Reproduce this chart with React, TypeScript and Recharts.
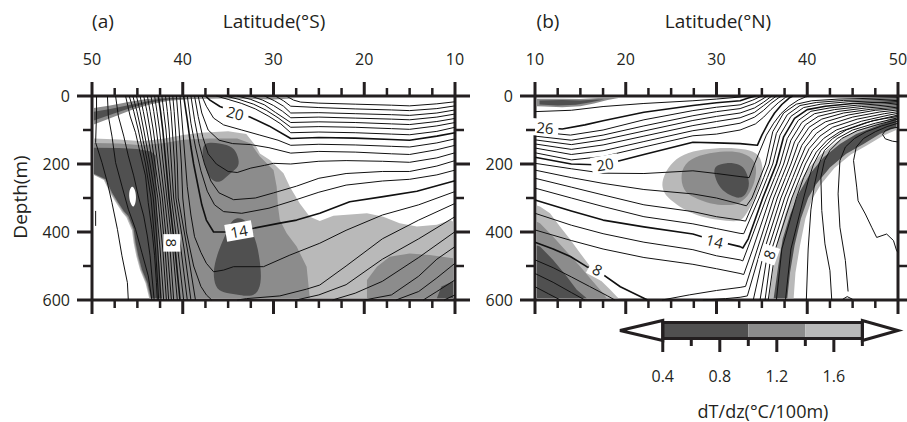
import React from 'react';
import { ScatterChart, Scatter, XAxis, YAxis } from 'recharts';

type P = [number, number];

// ---------------- shared axes ----------------
const latTicks = [10, 12.5, 15, 17.5, 20, 22.5, 25, 27.5, 30, 32.5, 35, 37.5, 40, 42.5, 45, 47.5, 50];
const latLabels = [10, 20, 30, 40, 50];
const depthTicks = [0, 100, 200, 300, 400, 500, 600];
const depthLabels = [0, 200, 400, 600];

// shading levels (dT/dz, degC/100m)
const cbarLevels = [0.4, 1.0, 1.4, 1.8];
const cbarTips = [0.1, 2.05];
const cbarTicks = [0.4, 0.6, 0.8, 1.0, 1.2, 1.4, 1.6, 1.8];
const cbarLabels = [0.4, 0.8, 1.2, 1.6];

const DARK = '#505050';
const MID = '#8c8c8c';
const LIGHT = '#b9b9b9';
const INK = '#231f20';
const FONT = "'Open Sans', 'Noto Sans', 'DejaVu Sans', sans-serif";

// ================= Panel (a) : latitude S =================
const aSurfMid: P[] = [[49.8,35],[48,28],[46,18],[44,9],[42.5,5],[40,4],[27,4],[28,7],[30,10],[33,8],[36,7],[39,9],[41.5,14],[43.5,24],[45.5,40],[47.5,60],[49.8,84]];
const aSurfDark: P[] = [[49.8,46],[48,38],[46,27],[44,16],[42.5,8],[41,5],[39,6],[41.5,10],[43.5,19],[45.5,33],[47.5,51],[49.8,72]];
const aLight: P[] = [[49.8,125],[47,128],[44.5,133],[42,125],[40,115],[38,108],[35,104],[33,112],[31.9,149],[31.5,169],[30.4,188],[28.9,227],[28.2,267],[27.1,316],[26.0,355],[24.9,368],[23.4,352],[19.7,345],[17.9,355],[16.1,374],[14.2,384],[12.0,379],[10.5,365],[10.2,370],[10.2,595],[43.7,595],[44.1,551],[44.7,512],[45.1,473],[45.4,434],[45.6,395],[46.2,357],[46.7,341],[47.3,316],[48.0,286],[48.7,247],[49.8,232]];
const aMid: P[] = [[49.8,138],[47,140],[44.5,145],[42,138],[40,129],[37,125],[34,125],[32.5,140],[31.5,178],[30.0,218],[29.65,267],[29.5,326],[29.3,365],[28.55,404],[27.45,443],[26.35,502],[26.0,595],[43.6,595],[44.0,551],[44.6,511],[45.0,471],[45.3,432],[45.5,393],[46.1,355],[46.6,340],[47.2,315],[47.9,285],[48.6,246],[49.8,231]];
const aMid2: P[] = [[19.7,595],[19.7,541],[18.6,502],[17.2,473],[15.0,463],[12.8,468],[10.2,477],[10.2,595]];
const aDark1: P[] = [[49.8,152],[47,153],[45,156],[43.5,163],[43.0,175],[42.9,300],[42.7,450],[42.3,595],[43.5,595],[43.9,549],[44.5,510],[44.9,470],[45.2,431],[45.4,392],[46.0,353],[46.5,338],[47.1,314],[47.8,284],[48.5,245],[49.8,229]];
const aDark2: P[] = [[37.9,169],[37.7,134],[35.9,139],[34.4,149],[33.9,178],[33.7,208],[34.8,227],[35.5,247],[36.3,257],[37.2,237],[37.5,208]];
const aDark3: P[] = [[34.05,355],[33.0,365],[32.4,394],[31.85,433],[31.5,482],[31.3,541],[31.7,580],[32.6,590],[33.7,585],[35.2,580],[36.3,570],[36.65,531],[36.5,492],[35.9,443],[35.2,404],[34.8,374]];
const aDark4: P[] = [[12,595],[11.5,560],[10.2,545],[10.2,595]];
const aHole: P[] = [[45.6,260],[45.2,278],[45.1,305],[45.4,332],[45.8,316],[46.0,285]];

const aL0: P[] = [[49.5,0],[49.5,50],[49.6,137],[48.9,196],[48.3,255],[47.8,314],[47.2,392],[46.7,470],[46.1,549],[46.0,600]];
const aL1: P[] = [[48.3,0],[48.2,59],[47.8,118],[47.4,196],[46.7,265],[46.0,333],[45.2,392],[44.5,461],[43.8,529],[43.4,600]];
const aL2: P[] = [[47.4,0],[47.1,59],[46.5,118],[46.0,176],[45.4,235],[44.9,294],[44.3,353],[43.9,412],[43.6,470],[43.4,529],[43.15,600]];
const aL3: P[] = [[46.3,0],[45.8,59],[45.2,108],[44.7,167],[44.1,235],[43.8,314],[43.4,392],[43.1,470],[42.9,549],[42.8,600]];
const aStub: P[] = [[49.6,338],[49.6,382]];
const aD0: P[] = [[45.9,0],[45.4,45],[44.9,100],[44.1,200],[43.5,300],[43.0,450],[42.65,600]];
const aD1: P[] = [[45.5,0],[45.05,45],[44.6,100],[43.85,200],[43.25,300],[42.75,450],[42.4,600]];
const aD2: P[] = [[45.1,0],[44.7,45],[44.3,100],[43.6,200],[43.0,300],[42.5,450],[42.1,600]];
const aD3: P[] = [[44.7,0],[44.35,45],[43.95,100],[43.3,200],[42.75,300],[42.2,450],[41.8,600]];
const aD4: P[] = [[44.3,0],[43.95,45],[43.6,100],[43.05,200],[42.5,300],[41.95,450],[41.55,600]];
const aD5: P[] = [[43.9,0],[43.6,45],[43.25,100],[42.75,200],[42.25,300],[41.7,450],[41.25,600]];
const aD6: P[] = [[43.5,0],[43.2,45],[42.9,100],[42.45,200],[42.0,300],[41.4,450],[41.0,600]];
const aD7: P[] = [[43.1,0],[42.85,45],[42.55,100],[42.15,200],[41.75,300],[41.1,450],[40.6,600]];
const aD8: P[] = [[42.7,0],[42.45,45],[42.2,100],[41.85,200],[41.5,300],[40.85,450],[40.3,600]];
const aD9: P[] = [[42.3,0],[42.1,45],[41.85,100],[41.55,200],[41.25,300],[40.55,450],[39.9,600]];
const aD10: P[] = [[41.9,0],[41.7,45],[41.5,100],[41.25,200],[41.0,300],[40.2,450],[39.5,600]];
const aD11: P[] = [[41.5,0],[41.3,45],[41.15,100],[40.9,200],[40.75,300],[39.85,450],[39.1,600]];
const aD12: P[] = [[41.1,0],[40.95,45],[40.8,100],[40.6,200],[40.5,300],[39.5,450],[38.6,600]];
const aT12: P[] = [[40.7,0],[40.4,100],[40.15,200],[40.0,300],[39.6,400],[38.8,500],[38.0,560],[37.4,585],[36.8,600]];
const aT12b: P[] = [[34.0,600],[33.0,596],[29.3,588],[26.35,568],[24.9,556],[22,500],[18,420],[14,365],[10,316]];
const aT13: P[] = [[40.3,0],[40.0,100],[39.7,200],[39.5,267],[39.1,350],[38.7,414],[38.0,460],[37.4,492],[36.6,517],[35.5,512],[34.4,502],[31.1,502],[28.2,468],[24.9,433],[22,395],[18,350],[14,320],[10,281]];
const aT14: P[] = [[39.9,0],[39.5,71],[39.1,150],[38.8,200],[38.3,267],[37.9,320],[37.4,365],[36.6,400],[35,400],[33.9,396],[32.2,389],[29.3,374],[27.45,365],[24.9,345],[21.6,311],[17.9,296],[14.2,280],[10,249]];
const aT15: P[] = [[39.5,0],[39.1,80],[38.6,150],[38.0,220],[37.3,280],[36.5,320],[35.5,340],[33.5,345],[30.5,330],[27.5,305],[25,283],[22,262],[18,250],[15,245],[12,232],[10,218]];
const aT16: P[] = [[39.1,0],[38.7,70],[38.2,140],[37.6,200],[36.9,250],[36.0,285],[34.4,305],[32,300],[30,285],[27.45,265],[25,242],[22,228],[18,222],[15,222],[12,206],[10,190]];
const aT17: P[] = [[38.7,0],[38.3,60],[37.8,120],[37.2,170],[36.3,200],[35.0,222],[34.0,225],[32.5,212],[31,204],[30,198],[28.1,200],[25,192],[22,190],[18,192],[15,195],[12,182],[10,167]];
const aT18: P[] = [[38.3,0],[37.9,50],[37.2,100],[36.0,130],[34.5,140],[32.5,143],[30.5,152],[28.1,168],[25,163],[21,165],[17,170],[15,172],[12,158],[10,145]];
const aT19: P[] = [[37.9,0],[37.4,30],[36.6,65],[35.5,85],[33.5,100],[31.5,115],[29.5,130],[28.1,145],[25,142],[21,144],[17,148],[15,150],[12,138],[10,126]];
const aT20: P[] = [[37.5,0],[37.0,12],[35.9,31],[34.2,48],[32.6,62],[30.5,88],[28.1,125],[25,122],[21,124],[17,128],[15,130],[12,118],[10,108]];
const aT21: P[] = [[36.3,0],[35,10],[33.5,22],[32,38],[30.5,60],[29.2,82],[28.1,108],[25,106],[21,108],[17,112],[15,114],[12,104],[10,92]];
const aT22: P[] = [[35.3,0],[33.8,10],[32.2,24],[30.8,42],[29.5,64],[28.1,92],[25,90],[21,92],[17,96],[15,98],[12,88],[10,78]];
const aT23: P[] = [[34.0,0],[32.5,10],[31,26],[29.8,48],[28.1,78],[25,76],[21,78],[17,82],[15,84],[12,75],[10,66]];
const aT24: P[] = [[32.5,0],[31.2,12],[30,28],[29,45],[28.1,64],[25,62],[21,65],[17,68],[15,70],[12,62],[10,53]];
const aT25: P[] = [[31.0,0],[29.9,14],[28.9,30],[28.1,50],[25,49],[21,52],[17,55],[15,57],[12,50],[10,41]];
const aT26: P[] = [[29.8,0],[28.9,14],[28.1,30],[25,34],[21,38],[17,41],[15,43],[12,37],[10,29]];
const aT27: P[] = [[28.6,0],[27.8,12],[27,18],[25,21],[21,24],[17,27],[15,29],[12,23],[10,17]];
const aT11: P[] = [[27.5,600],[25,585],[22,555],[18,480],[14,420],[10,355]];
const aT10: P[] = [[23.5,600],[21,580],[18,545],[14,475],[10,399]];
const aT9: P[] = [[20,600],[17,585],[14,530],[12,480],[10,443]];
const aT8: P[] = [[16.5,600],[14,575],[12,535],[10,492]];
const aT7: P[] = [[13.5,600],[12,575],[10,541]];
const aT6: P[] = [[11.2,600],[10,585]];

const aLabelText = ['20', '14', '8'];
const aLabelLat = [34.2, 33.8, 41.2];
const aLabelDepth = [50, 397, 432];
const aLabelAngle = [15, -10, 90];

// ================= Panel (b) : latitude N =================
const bSurfMid: P[] = [[10.2,8],[13,8],[15,9],[17,6],[18.5,4],[19.2,6],[18,12],[16.5,22],[15,30],[13,33],[11,31],[10.2,30]];
const bSurfDark: P[] = [[10.5,13],[13,12],[15,13],[16.8,10],[17.6,10],[16,19],[14.5,26],[12.5,28],[10.5,25]];
const bBlobLight: P[] = [[24.1,239],[24.9,200],[26.3,170],[28.55,156],[31.1,151],[33.3,156],[34.8,170],[35.2,220],[34.8,259],[34.1,308],[33.3,347],[32.6,371],[31.1,367],[29.3,362],[27.4,347],[26.0,327],[24.5,298],[23.95,269]];
const bBlobMid: P[] = [[26.0,229],[26.7,190],[28.55,170],[31.1,161],[32.95,166],[34.4,190],[34.4,239],[33.7,288],[32.6,318],[31.1,322],[29.3,318],[27.4,298],[26.3,278]];
const bBlobDark: P[] = [[29.65,205],[31.1,195],[32.6,200],[33.3,220],[33.7,259],[33.3,288],[32.6,303],[31.5,293],[30.4,273],[29.8,239]];
const bLLLight: P[] = [[10.2,322],[10.55,325],[11.65,345],[12.75,384],[13.9,423],[15.0,463],[16.1,502],[17.2,541],[18.3,570],[19.0,590],[19.2,595],[10.2,595]];
const bLLMid: P[] = [[10.2,370],[10.55,374],[12.0,414],[13.5,458],[15.0,502],[16.4,546],[17.5,580],[17.9,595],[10.2,595]];
const bLLDark: P[] = [[10.2,440],[10.55,443],[12.0,482],[13.5,531],[14.6,570],[15.7,595],[10.2,595]];
const bBandLight: P[] = [[35.8,595],[36.3,500],[36.8,420],[37.6,345],[38.5,285],[39.9,220],[41.5,172],[43.3,134],[45.2,105],[47.2,85],[48.8,70],[49.8,55],[49.8,100],[48.3,118],[46.6,145],[44.8,172],[43,212],[41.5,260],[40.5,305],[39.8,360],[39.2,440],[38.7,520],[38.5,595]];
const bBandDark: P[] = [[36.3,595],[36.8,500],[37.3,420],[38.1,350],[39.0,290],[40.3,229],[41.8,180],[43.6,141],[45.4,112],[47.3,92],[48.75,77],[49.8,63],[49.8,92],[48.0,112],[46.2,141],[44.3,170],[42.5,210],[41.0,259],[40.1,300],[39.3,360],[38.6,440],[38.1,520],[37.8,595]];

const bB1: P[] = [[10,46],[14,42],[17.5,31],[22,22],[27.4,14],[30,9],[32.6,3],[33.3,0]];
const bB2: P[] = [[10,90],[11.1,93],[13,97],[15.5,85],[17.5,73],[22,48],[27.4,28],[30,20],[32.6,14],[33.5,6],[34.3,0]];
const bB3: P[] = [[10,105],[13.9,115],[17.5,100],[22,70],[27.4,43],[30,33],[32.6,26],[34,12],[35,0]];
const bB4: P[] = [[10,118],[14,130],[17.5,115],[22,88],[27.4,58],[30,46],[32.6,37],[34.2,22],[35,10],[35.6,0]];
const bB5: P[] = [[10,129],[14,143],[17.5,129],[22,103],[27.4,72],[30,60],[32.6,50],[34.2,35],[35.2,18],[35.8,6],[36.1,0]];
const bB6: P[] = [[10,141],[14,157],[17.5,144],[22,118],[27.4,87],[30,75],[32.6,64],[34.2,48],[35.2,28],[36,12],[36.6,0]];
const bB7: P[] = [[10,153],[14,172],[17.5,161],[22,134],[27.4,102],[30,92],[32.6,80],[34.2,62],[35.2,42],[36,22],[36.8,6],[37.2,0]];
const bB8: P[] = [[10,167],[14,188],[17.5,178],[22,150],[27.4,117],[30,112],[32.6,100],[34.3,82],[35.2,62],[36,40],[36.8,20],[37.6,4],[37.9,0]];
const bB9: P[] = [[10,180],[14,200],[17.5,203],[22,172],[27.4,136],[30,138],[32.6,140],[34.5,145],[35,115],[35.7,80],[36.4,50],[37.2,25],[38,6],[38.4,0]];
const bB10: P[] = [[10,198],[14,214],[17.5,227],[22,228],[27.4,220],[30,228],[32.6,237],[33.6,240],[34.1,205],[34.8,160],[35.5,115],[36.3,80],[37.1,52],[38.0,30],[39.0,12],[39.8,3],[40.2,0]];
const bB11: P[] = [[10,218],[14,240],[17.5,257],[22,275],[27.4,288],[30,300],[32.6,318],[33.3,323],[33.9,300],[34.8,240],[35.4,200],[36.2,105],[37.4,50],[38.8,24],[40.5,14],[43.5,9],[50,5]];
const bB12: P[] = [[10,242],[14,268],[17.5,291],[22,320],[27.4,340],[30,355],[32.6,365],[33.2,368],[34.3,300],[35.2,240],[35.8,200],[36.6,110],[37.8,55],[39.2,28],[41,19],[44,13],[50,9]];
const bB13: P[] = [[10,271],[14,300],[17.5,325],[22,355],[27.4,376],[30,390],[32.6,404],[33.0,405],[34.7,300],[35.6,240],[36.2,200],[37.0,115],[38.2,60],[39.6,34],[41.5,24],[44.5,17],[50,13]];
const bB14: P[] = [[10,306],[14,338],[17.5,365],[22,385],[27.4,406],[29.65,424],[32.6,443],[32.9,447],[33.5,420],[35.1,300],[36.0,240],[36.6,200],[37.4,120],[38.6,66],[40.0,40],[42,30],[45,22],[50,17]];
const bB15: P[] = [[10,345],[14,380],[17.5,405],[22,430],[27.4,452],[30,470],[32.6,482],[32.9,485],[33.4,450],[35.5,300],[36.4,240],[37.0,200],[37.8,125],[39.0,72],[40.4,45],[42.5,35],[45.5,27],[50,21]];
const bB16: P[] = [[10,394],[14,425],[17.5,450],[22,475],[27.4,495],[30,508],[32.6,522],[33.0,525],[34.0,450],[35.9,300],[36.8,240],[37.4,200],[38.2,130],[39.4,78],[40.8,52],[43,40],[46,31],[50,25]];
const bB17: P[] = [[10,430],[12,450],[13.9,472],[15.7,502],[16.8,512],[19.4,561],[22,595],[22.4,600]];
const bB18: P[] = [[10,482],[12,505],[14,532],[16,560],[18,588],[18.8,600]];
const bB19: P[] = [[10,522],[12,548],[14,578],[15.5,600]];
const bB20: P[] = [[10,561],[11.5,582],[12.8,600]];
const bC1: P[] = [[24,600],[27,585],[30,572],[32.6,563],[33.2,560],[34.5,450],[36.3,300],[37.2,240],[37.8,200],[38.6,135],[39.8,85],[41.2,60],[43.5,45],[46.5,35],[50,29]];
const bC2: P[] = [[28.5,600],[31,596],[32.6,592],[33.4,588],[34.9,450],[36.7,300],[37.6,240],[38.2,200],[39.0,140],[40.2,92],[41.6,68],[44,50],[47,39],[50,33]];
const bG1: P[] = [[34.05,600],[35.3,450],[37.1,300],[38.0,240],[38.6,200],[39.4,145],[40.6,100],[42.0,76],[44.5,56],[47.5,42],[50,37]];
const bG2: P[] = [[34.8,600],[35.7,450],[37.5,300],[38.4,240],[39.0,200],[39.8,150],[41.0,110],[42.4,84],[45,62],[48,47],[50,41]];
const bG3: P[] = [[35.35,600],[36.1,450],[37.9,300],[38.8,240],[39.4,200],[40.2,155],[41.4,118],[42.8,92],[45.5,68],[48.5,52],[50,46]];
const bG4: P[] = [[35.7,600],[36.5,450],[38.3,300],[39.2,240],[39.8,200],[40.6,160],[41.8,125],[43.2,100],[46,74],[49,56],[50,51]];
const bG5: P[] = [[36.6,600],[37.2,450],[38.8,300],[39.6,240],[40.3,200],[41.0,165],[42.2,130],[43.6,105],[46.5,78],[50,56]];
const bG6: P[] = [[37.6,600],[38.2,450],[39.6,300],[40.2,240],[40.7,200],[41.5,160],[42.8,125],[44.3,100],[47.3,72],[50,60]];
const bE: P[] = [[39.9,600],[40.1,450],[40.4,335],[40.8,260],[41.3,200],[41.9,160],[43.3,125],[45,100],[47.5,80],[50,64]];
const bA: P[] = [[42.7,600],[42.5,514],[41.95,435],[41.6,337],[41.5,239],[41.9,190],[42.5,160],[43.8,125],[45.5,102],[47.8,84],[50,68]];
const bBv: P[] = [[44.5,575],[44.2,484],[43.6,386],[43.4,288],[43.6,190],[44.2,150],[45.2,125],[46.5,105],[48.2,88],[50,74]];
const bC: P[] = [[50,460],[49.85,455],[49.5,425],[48.75,406],[47.65,416],[47.1,386],[46.4,347],[45.6,308],[45.45,268],[45.1,190],[45.4,150],[46.2,125],[47.5,105],[48.8,90],[50,80]];
const bD: P[] = [[50,92],[49.2,95],[48.6,102],[48.3,113],[48.6,126],[49.4,133],[50,135]];
const bHook: P[] = [[43.9,598],[44.4,590],[45.0,598]];

const bLabelText = ['26', '20', '14', '8', '8'];
const bLabelLat = [11.1, 17.7, 29.8, 16.9, 35.8];
const bLabelDepth = [93, 200, 426, 510, 466];
const bLabelAngle = [5, -10, 15, 28, -70];

// ---------------- assembly ----------------
const aShades = [
  { pts: aSurfMid, fill: MID, curve: 'linear' },
  { pts: aSurfDark, fill: DARK, curve: 'linear' },
  { pts: aLight, fill: LIGHT, curve: 'linear' },
  { pts: aMid, fill: MID, curve: 'linear' },
  { pts: aMid2, fill: MID, curve: 'linear' },
  { pts: aDark1, fill: DARK, curve: 'linear' },
  { pts: aDark2, fill: DARK, curve: 'basisClosed' },
  { pts: aDark3, fill: DARK, curve: 'basisClosed' },
  { pts: aDark4, fill: DARK, curve: 'linear' },
  { pts: aHole, fill: '#ffffff', curve: 'basisClosed' },
];
const aContours = [aL0, aL1, aL2, aL3, aStub, aD0, aD1, aD2, aD3, aD4, aD5, aD6, aD7, aD8, aD9, aD10, aD11, aD12,
  aT12, aT12b, aT13, aT14, aT15, aT16, aT17, aT18, aT19, aT20, aT21, aT22, aT23, aT24, aT25, aT26, aT27,
  aT11, aT10, aT9, aT8, aT7, aT6];
const aBold = [aD8, aT14, aT20];

const bShades = [
  { pts: bSurfMid, fill: MID, curve: 'linear' },
  { pts: bSurfDark, fill: DARK, curve: 'linear' },
  { pts: bBlobLight, fill: LIGHT, curve: 'basisClosed' },
  { pts: bBlobMid, fill: MID, curve: 'basisClosed' },
  { pts: bBlobDark, fill: DARK, curve: 'basisClosed' },
  { pts: bLLLight, fill: LIGHT, curve: 'linear' },
  { pts: bLLMid, fill: MID, curve: 'linear' },
  { pts: bLLDark, fill: DARK, curve: 'linear' },
  { pts: bBandLight, fill: LIGHT, curve: 'linear' },
  { pts: bBandDark, fill: DARK, curve: 'linear' },
];
const bContours = [bB1, bB2, bB3, bB4, bB5, bB6, bB7, bB8, bB9, bB10, bB11, bB12, bB13, bB14, bB15, bB16,
  bB17, bB18, bB19, bB20, bC1, bC2, bG1, bG2, bG3, bG4, bG5, bG6, bE, bA, bBv, bC, bD, bHook];
const bBold = [bB2, bB9, bB14, bB17];

const toXY = (pts: P[]) => pts.map(([x, y]) => ({ x, y }));
const noShape = () => <g />;

const near = (list: number[], v: number) => list.some((l) => Math.abs(l - v) < 1e-6);

const TopTick = (props: any) => {
  const { x, y, payload } = props;
  const major = near(latLabels, payload.value);
  return (
    <g>
      <line x1={x} x2={x} y1={y} y2={y - (major ? 14 : 8)} stroke={INK} strokeWidth={major ? 3 : 2.5} />
      {major && (
        <text x={x} y={y - 31} textAnchor="middle" fontFamily={FONT} fontSize={16} fill={INK}>{payload.value}</text>
      )}
    </g>
  );
};
const BottomTick = (props: any) => {
  const { x, y, payload } = props;
  const major = near(latLabels, payload.value);
  return <line x1={x} x2={x} y1={y} y2={y + (major ? 14 : 8)} stroke={INK} strokeWidth={major ? 3 : 2.5} />;
};
const LeftTick = (props: any) => {
  const { x, y, payload } = props;
  const major = near(depthLabels, payload.value);
  return (
    <g>
      <line x1={x} x2={x - (major ? 15 : 9)} y1={y} y2={y} stroke={INK} strokeWidth={major ? 3 : 2.5} />
      {major && (
        <text x={x - 22} y={y + 6} textAnchor="end" fontFamily={FONT} fontSize={16} fill={INK}>{payload.value}</text>
      )}
    </g>
  );
};
const RightTick = (props: any) => {
  const { x, y, payload } = props;
  const major = near(depthLabels, payload.value);
  return <line x1={x} x2={x + (major ? 15 : 9)} y1={y} y2={y} stroke={INK} strokeWidth={major ? 3 : 2.5} />;
};

const LabelShape = (props: any) => {
  const { cx, cy, payload } = props;
  const w = payload.t.length * 9.5 + 8;
  return (
    <g transform={`translate(${cx},${cy}) rotate(${payload.a})`}>
      <rect x={-w / 2} y={-8.5} width={w} height={17} fill="#ffffff" />
      <text x={0} y={0} textAnchor="middle" dominantBaseline="central" fontFamily={FONT} fontSize={15} fill={INK}>{payload.t}</text>
    </g>
  );
};

const AXIS = { stroke: INK, strokeWidth: 3 };

// axes get a 1px band (a zero-size axis is not drawn), margins compensate for it
function Panel(props: any) {
  const { left, width, marginLeft, marginRight, reversed, shades, contours, bold, labels } = props;
  return (
    <div style={{ position: 'absolute', left, top: 0 }}>
      <ScatterChart width={width} height={320} margin={{ top: 95, left: marginLeft - 1, right: marginRight - 1, bottom: 19 }}>
        {shades.map((s: any, i: number) => (
          <Scatter key={'s' + i} xAxisId="b" yAxisId="l" data={toXY(s.pts)} shape={noShape}
            line={{ fill: s.fill, stroke: 'none' }} lineJointType={s.curve} isAnimationActive={false} />
        ))}
        {contours.map((c: P[], i: number) => (
          <Scatter key={'c' + i} xAxisId="b" yAxisId="l" data={toXY(c)} shape={noShape}
            line={{ stroke: '#111', strokeWidth: bold.includes(c) ? 1.6 : 1, fill: 'none', strokeLinejoin: 'round' }}
            lineJointType="linear" isAnimationActive={false} />
        ))}
        <Scatter xAxisId="t" yAxisId="r" data={labels} shape={LabelShape} isAnimationActive={false} />
        <XAxis xAxisId="b" orientation="bottom" type="number" dataKey="x" domain={[10, 50]} reversed={reversed}
          ticks={latTicks} interval={0} tickLine={false} tickSize={0} tickMargin={0} height={1} axisLine={AXIS} tick={BottomTick} />
        <XAxis xAxisId="t" orientation="top" type="number" dataKey="x" domain={[10, 50]} reversed={reversed}
          ticks={latTicks} interval={0} tickLine={false} tickSize={0} tickMargin={0} height={1} axisLine={AXIS} tick={TopTick} />
        <YAxis yAxisId="l" orientation="left" type="number" dataKey="y" domain={[0, 600]} reversed
          ticks={depthTicks} interval={0} tickLine={false} tickSize={0} tickMargin={0} width={1} axisLine={AXIS} tick={LeftTick} />
        <YAxis yAxisId="r" orientation="right" type="number" dataKey="y" domain={[0, 600]} reversed
          ticks={depthTicks} interval={0} tickLine={false} tickSize={0} tickMargin={0} width={1} axisLine={AXIS} tick={RightTick} />
      </ScatterChart>
    </div>
  );
}

const CbarTick = (props: any) => {
  const { x, y, payload } = props;
  const major = near(cbarLabels, payload.value);
  return (
    <g>
      <line x1={x} x2={x} y1={y - 2} y2={y + (major ? 11 : 5)} stroke={INK} strokeWidth={3} />
      {major && (
        <text x={x} y={y + 41} textAnchor="middle" fontFamily={FONT} fontSize={16} fill={INK}>{payload.value.toFixed(1)}</text>
      )}
    </g>
  );
};

function ColorBar() {
  const segs = cbarLevels.slice(0, -1).map((lo, i) => ({
    pts: [[lo, 0], [cbarLevels[i + 1], 0], [cbarLevels[i + 1], 1], [lo, 1]] as P[],
    fill: [DARK, MID, LIGHT][i],
  }));
  const lo = cbarLevels[0];
  const hi = cbarLevels[cbarLevels.length - 1];
  const leftTri: P[] = [[lo, -0.12], [cbarTips[0], 0.5], [lo, 1.12]];
  const rightTri: P[] = [[hi, -0.12], [cbarTips[1], 0.5], [hi, 1.12]];
  const box: P[] = [[lo, 0], [hi, 0], [hi, 1], [lo, 1]];
  return (
    <div style={{ position: 'absolute', left: 600, top: 310 }}>
      <ScatterChart width={307} height={112} margin={{ top: 10, left: 20, right: 9, bottom: 80 }}>
        {segs.map((s, i) => (
          <Scatter key={'cb' + i} xAxisId="c" yAxisId="c" data={toXY(s.pts)} shape={noShape}
            line={{ fill: s.fill, stroke: 'none' }} lineJointType="linearClosed" isAnimationActive={false} />
        ))}
        {[leftTri, rightTri].map((t, i) => (
          <Scatter key={'tri' + i} xAxisId="c" yAxisId="c" data={toXY(t)} shape={noShape}
            line={{ fill: '#ffffff', stroke: INK, strokeWidth: 3, strokeLinejoin: 'miter' }} lineJointType="linearClosed" isAnimationActive={false} />
        ))}
        <Scatter xAxisId="c" yAxisId="c" data={toXY(box)} shape={noShape}
          line={{ fill: 'none', stroke: INK, strokeWidth: 3 }} lineJointType="linearClosed" isAnimationActive={false} />
        <XAxis xAxisId="c" orientation="bottom" type="number" dataKey="x" domain={[cbarTips[0], cbarTips[1]]}
          ticks={cbarTicks} interval={0} tickLine={false} tickSize={0} tickMargin={0} height={1} axisLine={false} tick={CbarTick} />
        <YAxis yAxisId="c" type="number" dataKey="y" domain={[-0.15, 1.15]} hide width={0} />
      </ScatterChart>
    </div>
  );
}

const mkLabels = (t: string[], lat: number[], d: number[], ang: number[]) =>
  t.map((s, i) => ({ x: lat[i], y: d[i], t: s, a: ang[i] }));

export default function App() {
  return (
    <div style={{ position: 'absolute', left: 0, top: 0, width: 907, height: 422, background: '#ffffff', overflow: 'hidden' }}>
      <Panel left={0} width={470} marginLeft={92} marginRight={15} reversed={true}
        shades={aShades} contours={aContours} bold={aBold}
        labels={mkLabels(aLabelText, aLabelLat, aLabelDepth, aLabelAngle)} />
      <Panel left={460} width={447} marginLeft={75} marginRight={9} reversed={false}
        shades={bShades} contours={bContours} bold={bBold}
        labels={mkLabels(bLabelText, bLabelLat, bLabelDepth, bLabelAngle)} />
      <ColorBar />
      <svg width={907} height={422} style={{ position: 'absolute', left: 0, top: 0, pointerEvents: 'none' }}>
        <g fontFamily={FONT} fill={INK}>
          <text x={103} y={28} textAnchor="middle" fontSize={19}>(a)</text>
          <text x={274} y={28} textAnchor="middle" fontSize={19}>Latitude(°S)</text>
          <text x={548} y={28} textAnchor="middle" fontSize={19}>(b)</text>
          <text x={718} y={28} textAnchor="middle" fontSize={19}>Latitude(°N)</text>
          <text transform="translate(27,197) rotate(-90)" textAnchor="middle" fontSize={19}>Depth(m)</text>
          <text x={763} y={418} textAnchor="middle" fontSize={18}>dT/dz(°C/100m)</text>
        </g>
      </svg>
    </div>
  );
}
